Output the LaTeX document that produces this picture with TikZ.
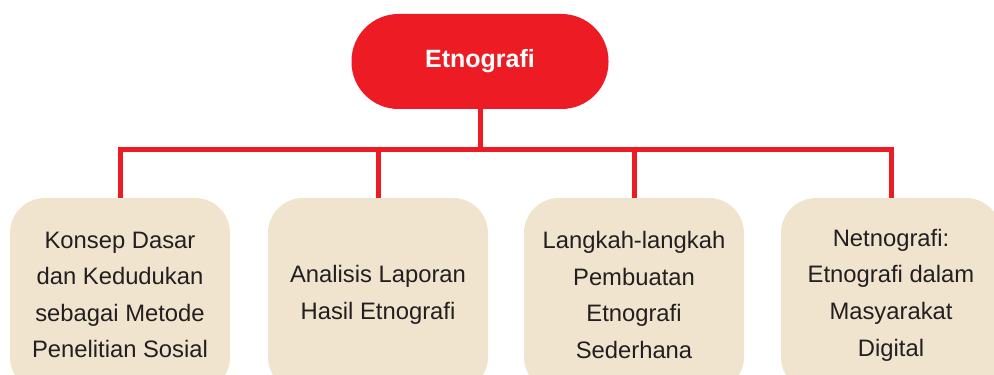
\documentclass[tikz,border=0pt]{standalone}
\usepackage{fontspec}
\setmainfont{Liberation Sans}
\definecolor{redE}{HTML}{ED1C24}
\definecolor{beige}{HTML}{F1E4CF}
\definecolor{ink}{HTML}{231F20}
\begin{document}
\begin{tikzpicture}[x=1pt,y=1pt,
  topbox/.style={fill=redE, draw=none, rounded corners=47pt, minimum width=257pt, minimum height=95pt, text=white, font=\fontsize{25}{30}\selectfont\bfseries},
  subbox/.style={fill=beige, draw=none, rounded corners=35pt, minimum width=220pt, minimum height=194pt, text=ink, align=center, font=\fontsize{23.8}{36.6}\selectfont},
  link/.style={draw=redE, line width=5pt}]
\useasboundingbox (0,0) rectangle (994,375);
\clip (0,0) rectangle (994,375);
\node[topbox] (top) at (480,313.5) {Etnografi};
\coordinate (j) at (480,225);
\node[subbox] (b1) at (120,80) {Konsep Dasar\\dan Kedudukan\\sebagai Metode\\Penelitian Sosial};
\node[subbox] (b2) at (378,80) {Analisis Laporan\\Hasil Etnografi};
\node[subbox] (b3) at (634,80) {Langkah-langkah\\Pembuatan\\Etnografi\\Sederhana};
\node[subbox] (b4) at (891,80) {Netnografi:\\Etnografi dalam\\Masyarakat\\Digital};
\draw[link] (top.south) -- (j);
\draw[link] (b1.north) |- (j) -| (b4.north);
\draw[link] (b2.north) -- (b2.north |- j);
\draw[link] (b3.north) -- (b3.north |- j);
\end{tikzpicture}
\end{document}
